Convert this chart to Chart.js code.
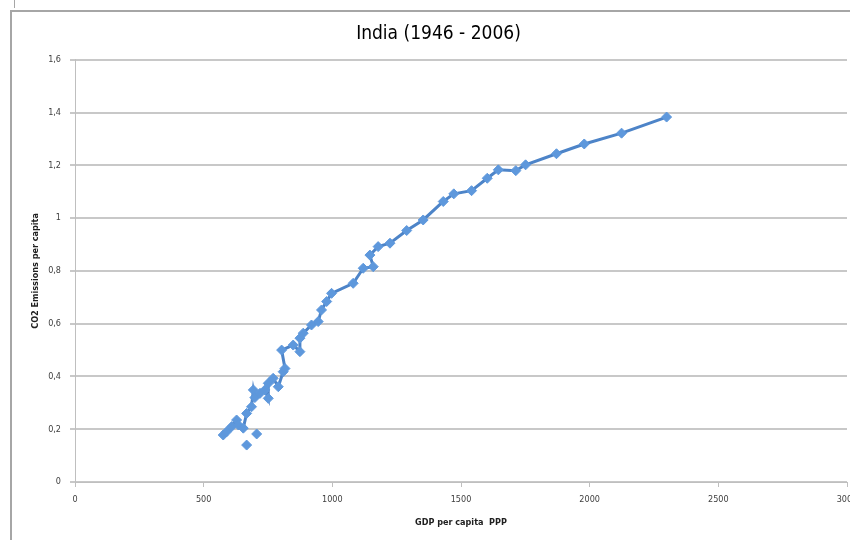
<!DOCTYPE html>
<html>
<head>
<meta charset="utf-8">
<script src="https://cdn.jsdelivr.net/npm/chart.js@4/dist/chart.umd.min.js"></script>
<style>
  html, body { margin: 0; padding: 0; background: #fff; overflow: hidden; width: 850px; height: 540px; }
  #wrap { position: absolute; left: 0; top: 0; }
  .frameTop { position: absolute; left: 10px; top: 10px; width: 860px; height: 2px; background: #a6a6a6; }
  .frameLeft { position: absolute; left: 10px; top: 10px; width: 2px; height: 540px; background: #a6a6a6; }
  .stub { position: absolute; left: 14px; top: 0; width: 1px; height: 8px; background: #a6a6a6; }
</style>
</head>
<body>
<div id="wrap"><canvas id="graph0" width="880" height="540"></canvas></div>
<div class="frameTop"></div>
<div class="frameLeft"></div>
<div class="stub"></div>
<script>
// DATA (roughly in year order)
const gdp = [576, 589, 609, 628, 635, 654, 667, 686, 693, 699, 719, 738, 751, 751, 770, 790, 809, 816,
             803, 848, 874, 874, 887, 919, 945, 958, 978, 997, 1081, 1120, 1159, 1146, 1178, 1224,
             1289, 1353, 1431, 1472, 1541, 1602, 1645, 1713, 1751, 1871, 1979, 2124, 2299]
const co2 = [0.178, 0.19, 0.21, 0.235, 0.216, 0.204, 0.26, 0.285, 0.349, 0.32, 0.336, 0.349, 0.317, 0.374,
             0.393, 0.361, 0.418, 0.43, 0.50, 0.519, 0.494, 0.545, 0.564, 0.595, 0.608, 0.652, 0.684, 0.715,
             0.753, 0.81, 0.816, 0.86, 0.892, 0.905, 0.953, 0.993, 1.063, 1.092, 1.104, 1.151, 1.183,
             1.180, 1.202, 1.244, 1.281, 1.322, 1.383]
// the two loose points under the cluster
const gdpLoose = [667, 706]
const co2Loose = [0.14, 0.182]

const xTicks = [0, 500, 1000, 1500, 2000, 2500, 3000]
const yTicks = [0, 0.2, 0.4, 0.6, 0.8, 1, 1.2, 1.4, 1.6]

const FONT = "'Liberation Sans Narrow', 'DejaVu Sans Condensed', 'Liberation Sans', sans-serif"
const blue = '#5e98dc'
const lineBlue = '#4d84c8'

function toPoints(xs, ys) {
    return xs.map((x, i) => ({ x: x, y: ys[i] }))
}

function yLabel(v) {
    if (v === 0 || v === 1) return String(v)
    return v.toFixed(1).replace('.', ',')
}

var ctx = document.getElementById('graph0').getContext('2d')

var graph0 = new Chart(ctx, {
    type: 'scatter',
    data: {
        datasets: [
            {
                label: 'India',
                data: toPoints(gdp, co2),
                showLine: true,
                borderColor: lineBlue,
                borderWidth: 3,
                pointStyle: 'rectRot',
                pointRadius: 5,
                pointBackgroundColor: blue,
                pointBorderColor: blue,
                pointBorderWidth: 1
            },
            {
                label: 'India loose',
                data: toPoints(gdpLoose, co2Loose),
                showLine: false,
                pointStyle: 'rectRot',
                pointRadius: 5,
                pointBackgroundColor: blue,
                pointBorderColor: blue,
                pointBorderWidth: 1
            }
        ]
    },
    options: {
        responsive: false,
        animation: false,
        layout: { padding: { left: 30, right: 33, top: 0, bottom: 0 } },
        plugins: {
            legend: { display: false },
            tooltip: { enabled: false },
            title: {
                display: true,
                text: 'India (1946 - 2006)',
                color: '#000',
                font: { family: FONT, size: 19, weight: 'normal' },
                padding: { top: 23, bottom: 14 }
            }
        },
        scales: {
            x: {
                type: 'linear',
                min: 0,
                max: 3000,
                afterBuildTicks: s => { s.ticks = xTicks.map(v => ({ value: v })) },
                afterFit: s => { s.height = 58 },
                ticks: { color: '#404040', font: { family: FONT, size: 9 }, padding: 7, maxRotation: 0, callback: v => String(v) },
                grid: { drawOnChartArea: false, drawTicks: true, tickLength: 5, color: '#bfbfbf' },
                border: { display: true, color: '#bfbfbf', width: 1 },
                title: {
                    display: true,
                    text: 'GDP per capita  PPP',
                    color: '#202020',
                    font: { family: FONT, size: 9, weight: 'bold' },
                    padding: { top: 0, bottom: 12 }
                }
            },
            y: {
                min: 0,
                max: 1.6,
                afterBuildTicks: s => { s.ticks = yTicks.map(v => ({ value: v })) },
                afterFit: s => { s.width = 45 },
                ticks: { color: '#404040', font: { family: FONT, size: 9 }, padding: 9, callback: v => yLabel(v) },
                grid: { color: '#c8c8c8', lineWidth: 2, tickLength: 5 },
                border: { display: true, color: '#bfbfbf', width: 1 },
                title: {
                    display: true,
                    text: 'CO2 Emissions per capita',
                    color: '#202020',
                    font: { family: FONT, size: 9, weight: 'bold' },
                    padding: { top: 0, bottom: 0 }
                }
            }
        }
    }
})
</script>
</body>
</html>
